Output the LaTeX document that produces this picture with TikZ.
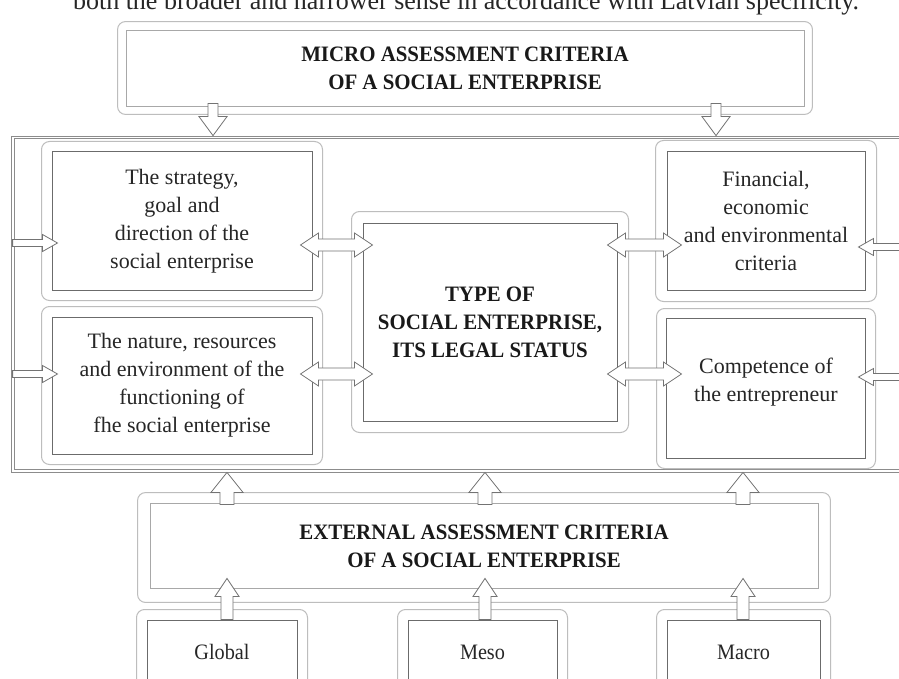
\documentclass[tikz,border=0pt]{standalone}
\usepackage{fontspec}
\setmainfont{Liberation Serif}
\newfontfamily\condfont[FakeStretch=0.95]{Liberation Serif}
\newfontfamily\narrowfont[FakeStretch=0.92]{Liberation Serif}
\usetikzlibrary{calc}
\definecolor{innerc}{gray}{0.42}
\definecolor{lightc}{gray}{0.66}
\definecolor{haloc}{gray}{0.74}
\definecolor{arrc}{gray}{0.45}
\definecolor{framec}{gray}{0.55}
\tikzset{
  txt/.style={font=\fontsize{22}{28}\selectfont, align=center, text=black!85},
  head/.style={font=\condfont\bfseries\fontsize{22}{28}\selectfont, align=center, text=black!90},
  inbox/.style={draw=innerc, line width=1pt, inner sep=0pt},
  lightbox/.style={draw=lightc, line width=0.9pt, inner sep=0pt},
  halo/.style={draw=haloc, line width=1pt, fill=white, rounded corners=8pt},
  blk/.style={draw=arrc, fill=white, line width=0.8pt, line join=miter},
  framebox/.style={draw=framec, line width=0.8pt, inner sep=0pt}
}
% halo around a node: #1 padding (pt), #2 node name
\newcommand\halo[2]{\draw[halo] ([xshift=-#1pt,yshift=#1pt]#2.north west) rectangle ([xshift=#1pt,yshift=-#1pt]#2.south east);}
% block arrows: #1 tail, #2 tip, #3 half shaft, #4 half head, #5 head length
\newcommand\arrowR[5]{\draw[blk] let \p1=#1, \p2=#2 in
  (\x1,\y1+#3) -- (\x2-#5,\y1+#3) -- (\x2-#5,\y1+#4) -- (\x2,\y1) -- (\x2-#5,\y1-#4) -- (\x2-#5,\y1-#3) -- (\x1,\y1-#3) -- cycle;}
\newcommand\arrowL[5]{\draw[blk] let \p1=#1, \p2=#2 in
  (\x1,\y1+#3) -- (\x2+#5,\y1+#3) -- (\x2+#5,\y1+#4) -- (\x2,\y1) -- (\x2+#5,\y1-#4) -- (\x2+#5,\y1-#3) -- (\x1,\y1-#3) -- cycle;}
\newcommand\arrowU[5]{\draw[blk] let \p1=#1, \p2=#2 in
  (\x1-#3,\y1) -- (\x1-#3,\y2-#5) -- (\x1-#4,\y2-#5) -- (\x1,\y2) -- (\x1+#4,\y2-#5) -- (\x1+#3,\y2-#5) -- (\x1+#3,\y1) -- cycle;}
\newcommand\arrowD[5]{\draw[blk] let \p1=#1, \p2=#2 in
  (\x1-#3,\y1) -- (\x1-#3,\y2+#5) -- (\x1-#4,\y2+#5) -- (\x1,\y2) -- (\x1+#4,\y2+#5) -- (\x1+#3,\y2+#5) -- (\x1+#3,\y1) -- cycle;}
\newcommand\arrowLR[5]{\draw[blk] let \p1=#1, \p2=#2 in
  (\x1,\y1) -- (\x1+#5,\y1+#4) -- (\x1+#5,\y1+#3) -- (\x2-#5,\y1+#3) -- (\x2-#5,\y1+#4) -- (\x2,\y1)
  -- (\x2-#5,\y1-#4) -- (\x2-#5,\y1-#3) -- (\x1+#5,\y1-#3) -- (\x1+#5,\y1-#4) -- cycle;}
\begin{document}
\begin{tikzpicture}[x=1pt,y=-1pt]
\useasboundingbox (0,0) rectangle (899,679);
\clip (0,0) rectangle (899,679);
\fill[white] (0,0) rectangle (899,679);

% clipped line of running text at the top
\node[font=\fontsize{26}{30}\selectfont, text=black!85, anchor=base] (cap) at (466,10) {both the broader and narrower sense in accordance with Latvian specificity.};

% helper rows / columns
\coordinate (m1) at (213,0);  \coordinate (m2) at (716,0);
\coordinate (k1) at (227,0);  \coordinate (k2) at (485,0);  \coordinate (k3) at (743,0);
\coordinate (r1) at (0,245);  \coordinate (r2) at (0,374);
\coordinate (l1) at (0,243);  \coordinate (l2) at (0,374);
\coordinate (q1) at (0,247);  \coordinate (q2) at (0,377);

% big frame (double line)
\node[framebox, minimum width=900pt, minimum height=336pt] (frame) at (461,304) {};
\draw[framec, line width=0.8pt] ([xshift=4pt,yshift=-3pt]frame.north west) rectangle ([xshift=4pt,yshift=3pt]frame.south east);

% micro
\node[lightbox, minimum width=678pt, minimum height=76pt] (micro) at (465,68) {};
\halo{8}{micro}
\node[lightbox, minimum width=678pt, minimum height=76pt, head] at (465,68) {MICRO ASSESSMENT CRITERIA\\OF A SOCIAL ENTERPRISE};

% left column
\node[inbox, minimum width=260pt, minimum height=138pt] (strat) at (182,221) {};
\halo{10}{strat}
\node[inbox, minimum width=260pt, minimum height=138pt, txt] at (182,221) {The strategy,\\goal and\\direction of the\\social enterprise};

\node[inbox, minimum width=260pt, minimum height=137pt] (nat) at (182,385.5) {};
\halo{10}{nat}
\node[inbox, minimum width=260pt, minimum height=137pt, txt] at (182,385.5) {The nature, resources\\and environment of the\\functioning of\\fhe social enterprise};

% centre
\node[inbox, minimum width=254pt, minimum height=198pt] (type) at (490,322) {};
\halo{11}{type}
\node[inbox, minimum width=254pt, minimum height=198pt, head] at (490,322) {TYPE OF\\SOCIAL ENTERPRISE,\\ITS LEGAL STATUS};

% right column
\node[inbox, minimum width=198pt, minimum height=138pt] (fin) at (766,221) {};
\halo{11}{fin}
\node[inbox, minimum width=198pt, minimum height=138pt, txt] at (766,221) {\raisebox{0pt}[0pt][0pt]{}Financial,\\economic\\and environmental\\criteria};

\node[inbox, minimum width=198pt, minimum height=139pt] (comp) at (766,388.5) {};
\halo{10}{comp}
\draw[innerc, line width=1pt] (comp.north west) rectangle (comp.south east);
\node[txt] at (766,382) {Competence of\\the entrepreneur};

% external
\node[lightbox, minimum width=668pt, minimum height=85pt] (ext) at (484,547.5) {};
\halo{12}{ext}
\node[lightbox, minimum width=668pt, minimum height=85pt, head] at (484,546) {EXTERNAL ASSESSMENT CRITERIA\\OF A SOCIAL ENTERPRISE};

% bottom boxes
\node[inbox, minimum width=150pt, minimum height=64pt] (glob) at (222,652) {};
\halo{10}{glob}
\node[inbox, minimum width=150pt, minimum height=64pt, txt, font=\narrowfont\fontsize{22}{28}\selectfont] at (222,652) {Global};
\node[inbox, minimum width=149pt, minimum height=64pt] (meso) at (482.5,652) {};
\halo{10}{meso}
\node[inbox, minimum width=149pt, minimum height=64pt, txt, font=\narrowfont\fontsize{22}{28}\selectfont] at (482.5,652) {Meso};
\node[inbox, minimum width=153pt, minimum height=64pt] (macro) at (743.5,652) {};
\halo{10}{macro}
\node[inbox, minimum width=153pt, minimum height=64pt, txt, font=\narrowfont\fontsize{22}{28}\selectfont] at (743.5,652) {Macro};

% arrows: micro -> frame
\arrowD{($(m1 |- micro.south)+(0,-3)$)}{(m1 |- frame.north)}{5pt}{14pt}{19pt}
\arrowD{($(m2 |- micro.south)+(0,-3)$)}{(m2 |- frame.north)}{5pt}{14pt}{19pt}

% double arrows with the centre box
\arrowLR{($(strat.east |- r1)+(-12,0)$)}{($(type.west |- r1)+(10,0)$)}{6pt}{12pt}{18pt}
\arrowLR{($(nat.east |- r2)+(-12,0)$)}{($(type.west |- r2)+(10,0)$)}{6pt}{12pt}{18pt}
\arrowLR{($(type.east |- r1)+(-10,0)$)}{($(fin.west |- r1)+(15,0)$)}{6pt}{12pt}{18pt}
\arrowLR{($(type.east |- r2)+(-10,0)$)}{($(comp.west |- r2)+(15,0)$)}{6pt}{12pt}{18pt}

% inputs from the frame sides
\arrowR{($(frame.west |- l1)+(2,0)$)}{($(strat.west |- l1)+(6,0)$)}{3.5pt}{8.5pt}{15pt}
\arrowR{($(frame.west |- l2)+(2,0)$)}{($(nat.west |- l2)+(6,0)$)}{3.5pt}{8.5pt}{15pt}
\arrowL{(frame.east |- q1)}{($(fin.east |- q1)+(-7,0)$)}{3.5pt}{8.5pt}{15pt}
\arrowL{(frame.east |- q2)}{($(comp.east |- q2)+(-7,0)$)}{3.5pt}{8.5pt}{15pt}

% external -> frame
\arrowU{(k1 |- ext.north)}{(k1 |- frame.south)}{7pt}{16pt}{20pt}
\arrowU{(k2 |- ext.north)}{(k2 |- frame.south)}{7pt}{16pt}{20pt}
\arrowU{(k3 |- ext.north)}{(k3 |- frame.south)}{7pt}{16pt}{20pt}

% bottom boxes -> external
\arrowU{(k1 |- glob.north)}{($(k1 |- ext.south)+(0,-12)$)}{6pt}{12pt}{18pt}
\arrowU{(k2 |- meso.north)}{($(k2 |- ext.south)+(0,-12)$)}{6pt}{12pt}{18pt}
\arrowU{(k3 |- macro.north)}{($(k3 |- ext.south)+(0,-12)$)}{6pt}{12pt}{18pt}
\end{tikzpicture}
\end{document}
